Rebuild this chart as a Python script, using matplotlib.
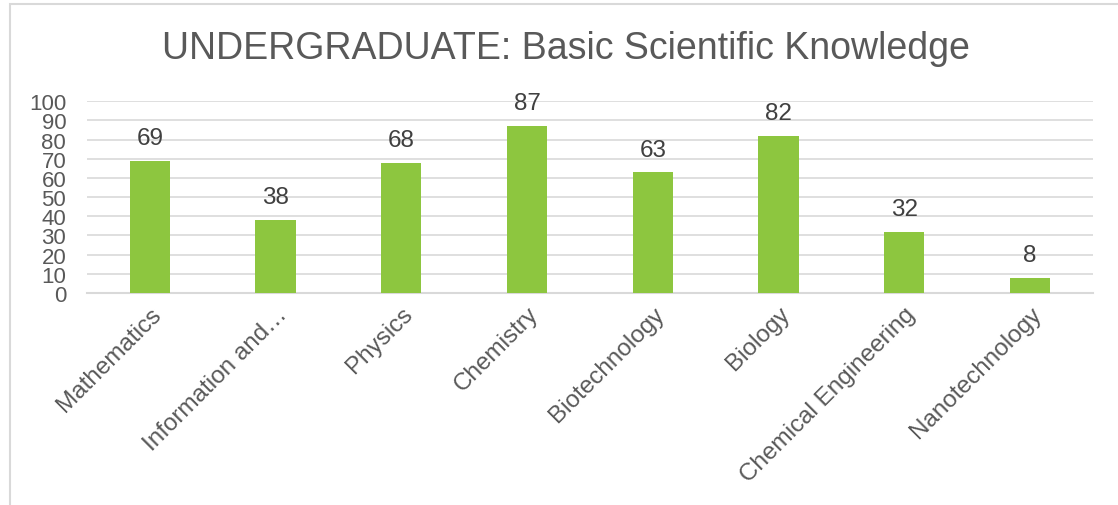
import matplotlib.pyplot as plt
from matplotlib.patches import Rectangle

plt.rcParams['font.family'] = ['Liberation Sans', 'DejaVu Sans']

subjects = ['Mathematics', 'Information and\u2026', 'Physics', 'Chemistry',
            'Biotechnology', 'Biology', 'Chemical Engineering', 'Nanotechnology']
scores = [69, 38, 68, 87, 63, 82, 32, 8]
yticks = list(range(0, 101, 10))

text_color = '#595959'
grid_color = '#d9d9d9'
bar_color = '#8dc63f'

fig = plt.figure(figsize=(11.18, 5.06), dpi=100)
ax = fig.add_axes([0.0778, 0.419, 0.8998, 0.379])

x = range(len(subjects))
bars = ax.bar(x, scores, width=0.32, color=bar_color, zorder=3)

for rect, val in zip(bars, scores):
    ax.annotate(str(val), (rect.get_x() + rect.get_width() / 2, val),
                xytext=(0, 12), textcoords='offset points',
                ha='center', va='baseline', fontsize=17.5, color='#404040')

ax.set_xlim(-0.5, len(subjects) - 0.5)
ax.set_ylim(0, 100)
ax.set_yticks(yticks)
ax.set_yticklabels([str(t) for t in yticks], fontsize=16, color=text_color)
ax.set_xticks(list(x))
ax.set_xticklabels(subjects, rotation=45, ha='right', va='top',
                   rotation_mode='anchor', fontsize=17.5, color=text_color)
ax.tick_params(axis='both', length=0)
ax.tick_params(axis='y', pad=15)
ax.tick_params(axis='x', pad=7)

ax.grid(axis='y', color=grid_color, linewidth=1.2, zorder=0)
for side in ['top', 'right', 'left']:
    ax.spines[side].set_visible(False)
ax.spines['bottom'].set_color(grid_color)
ax.spines['bottom'].set_linewidth(1.5)

fig.text(0.506, 0.903, 'UNDERGRADUATE: Basic Scientific Knowledge',
         ha='center', va='center', fontsize=27, color=text_color)

# chart frame, running off the right and bottom edges
fig.patches.append(Rectangle((0.009, -0.1), 1.1, 1.09, transform=fig.transFigure,
                             fill=False, edgecolor=grid_color, linewidth=1.5))

fig.savefig('out.png', dpi=100)
